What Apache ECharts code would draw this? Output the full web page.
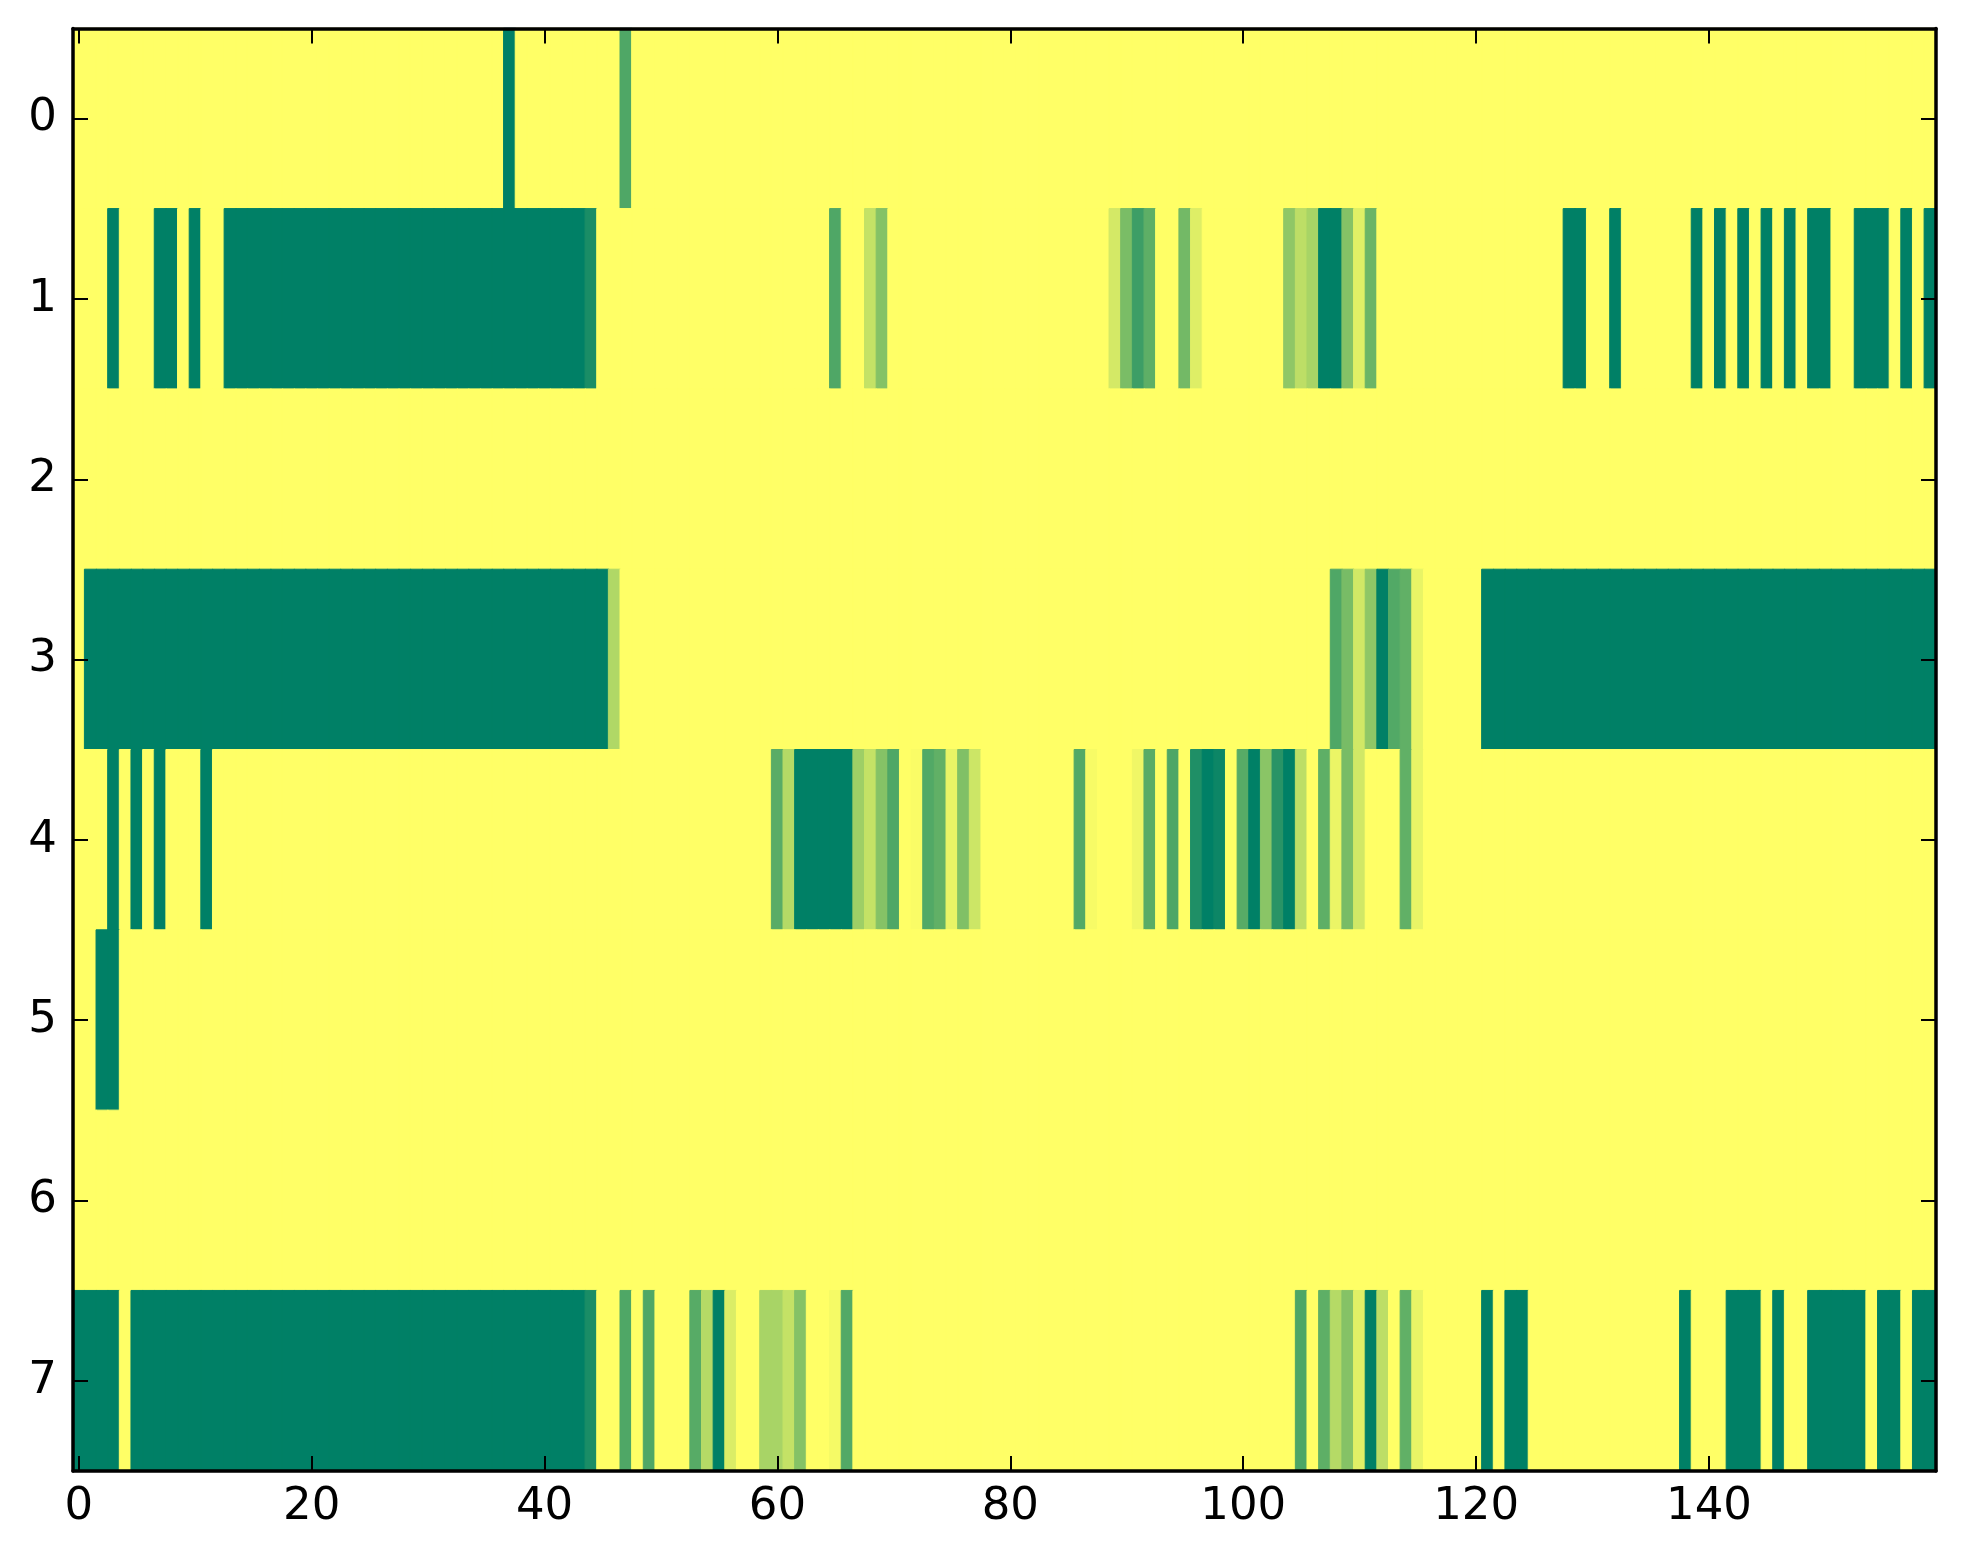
<!DOCTYPE html>
<html><head><meta charset="utf-8">
<script src="https://cdn.jsdelivr.net/npm/echarts@6/dist/echarts.min.js"></script>
<style>html,body{margin:0;padding:0;background:#fff}#c{width:1963px;height:1564px}</style>
</head><body><div id="c"></div>
<script>
const row0 = [
0,0,0,0,0,0,0,0,0,0,0,0,0,0,0,0,0,0,0,0,
0,0,0,0,0,0,0,0,0,0,0,0,0,0,0,0,0,1,0,0,
0,0,0,0,0,0,0,0.69,0,0,0,0,0,0,0,0,0,0,0,0,
0,0,0,0,0,0,0,0,0,0,0,0,0,0,0,0,0,0,0,0,
0,0,0,0,0,0,0,0,0,0,0,0,0,0,0,0,0,0,0,0,
0,0,0,0,0,0,0,0,0,0,0,0,0,0,0,0,0,0,0,0,
0,0,0,0,0,0,0,0,0,0,0,0,0,0,0,0,0,0,0,0,
0,0,0,0,0,0,0,0,0,0,0,0,0,0,0,0,0,0,0,0];
const row1 = [
0,0,0,1,0,0,0,1,1,0,1,0,0,1,1,1,1,1,1,1,
1,1,1,1,1,1,1,1,1,1,1,1,1,1,1,1,1,1,1,1,
1,1,1,1,0.9,0,0,0,0,0,0,0,0,0,0,0,0,0,0,0,
0,0,0,0,0,0.69,0,0,0.23,0.48,0,0,0,0,0,0,0,0,0,0,
0,0,0,0,0,0,0,0,0,0.17,0.52,0.76,0.63,0,0,0.55,0.13,0,0,0,
0,0,0,0,0.44,0.26,0.34,1,1,0.48,0.12,0.58,0,0,0,0,0,0,0,0,
0,0,0,0,0,0,0,0,1,1,0,0,1,0,0,0,0,0,0,1,
0,1,0,1,0,1,0,1,0,1,1,0,0,1,1,1,0,1,0,1];
const row2 = [
0,0,0,0,0,0,0,0,0,0,0,0,0,0,0,0,0,0,0,0,
0,0,0,0,0,0,0,0,0,0,0,0,0,0,0,0,0,0,0,0,
0,0,0,0,0,0,0,0,0,0,0,0,0,0,0,0,0,0,0,0,
0,0,0,0,0,0,0,0,0,0,0,0,0,0,0,0,0,0,0,0,
0,0,0,0,0,0,0,0,0,0,0,0,0,0,0,0,0,0,0,0,
0,0,0,0,0,0,0,0,0,0,0,0,0,0,0,0,0,0,0,0,
0,0,0,0,0,0,0,0,0,0,0,0,0,0,0,0,0,0,0,0,
0,0,0,0,0,0,0,0,0,0,0,0,0,0,0,0,0,0,0,0];
const row3 = [
0,1,1,1,1,1,1,1,1,1,1,1,1,1,1,1,1,1,1,1,
1,1,1,1,1,1,1,1,1,1,1,1,1,1,1,1,1,1,1,1,
1,1,1,1,1,1,0.31,0,0,0,0,0,0,0,0,0,0,0,0,0,
0,0,0,0,0,0,0,0,0,0,0,0,0,0,0,0,0,0,0,0,
0,0,0,0,0,0,0,0,0,0,0,0,0,0,0,0,0,0,0,0,
0,0,0,0,0,0,0,0,0.69,0.53,0.18,0.44,1,0.68,0.62,0.09,0,0,0,0,
0,1,1,1,1,1,1,1,1,1,1,1,1,1,1,1,1,1,1,1,
1,1,1,1,1,1,1,1,1,1,1,1,1,1,1,1,1,1,1,1];
const row4 = [
0,0,0,1,0,1,0,1,0,0,0,1,0,0,0,0,0,0,0,0,
0,0,0,0,0,0,0,0,0,0,0,0,0,0,0,0,0,0,0,0,
0,0,0,0,0,0,0,0,0,0,0,0,0,0,0,0,0,0,0,0,
0.65,0.29,1,1,1,1,1,0.38,0.23,0.48,0.69,0,0.02,0.68,0.62,0.09,0.5,0.2,0,0,
0,0,0,0,0,0,0.68,0.03,0,0,0,0.06,0.65,0,0.7,0,0.88,1,0.95,0,
0.66,1,0.46,0.84,1,0.26,0,0.63,0.08,0.53,0.18,0,0,0,0.62,0.09,0,0,0,0,
0,0,0,0,0,0,0,0,0,0,0,0,0,0,0,0,0,0,0,0,
0,0,0,0,0,0,0,0,0,0,0,0,0,0,0,0,0,0,0,0];
const row5 = [
0,0,1,1,0,0,0,0,0,0,0,0,0,0,0,0,0,0,0,0,
0,0,0,0,0,0,0,0,0,0,0,0,0,0,0,0,0,0,0,0,
0,0,0,0,0,0,0,0,0,0,0,0,0,0,0,0,0,0,0,0,
0,0,0,0,0,0,0,0,0,0,0,0,0,0,0,0,0,0,0,0,
0,0,0,0,0,0,0,0,0,0,0,0,0,0,0,0,0,0,0,0,
0,0,0,0,0,0,0,0,0,0,0,0,0,0,0,0,0,0,0,0,
0,0,0,0,0,0,0,0,0,0,0,0,0,0,0,0,0,0,0,0,
0,0,0,0,0,0,0,0,0,0,0,0,0,0,0,0,0,0,0,0];
const row6 = [
0,0,0,0,0,0,0,0,0,0,0,0,0,0,0,0,0,0,0,0,
0,0,0,0,0,0,0,0,0,0,0,0,0,0,0,0,0,0,0,0,
0,0,0,0,0,0,0,0,0,0,0,0,0,0,0,0,0,0,0,0,
0,0,0,0,0,0,0,0,0,0,0,0,0,0,0,0,0,0,0,0,
0,0,0,0,0,0,0,0,0,0,0,0,0,0,0,0,0,0,0,0,
0,0,0,0,0,0,0,0,0,0,0,0,0,0,0,0,0,0,0,0,
0,0,0,0,0,0,0,0,0,0,0,0,0,0,0,0,0,0,0,0,
0,0,0,0,0,0,0,0,0,0,0,0,0,0,0,0,0,0,0,0];
const row7 = [
1,1,1,1,0,1,1,1,1,1,1,1,1,1,1,1,1,1,1,1,
1,1,1,1,1,1,1,1,1,1,1,1,1,1,1,1,1,1,1,1,
1,1,1,1,0.9,0,0,0.69,0,0.69,0,0,0,0.66,0.29,1,0.14,0,0,0.34,
0.34,0.23,0.48,0,0,0.04,0.68,0,0,0,0,0,0,0,0,0,0,0,0,0,
0,0,0,0,0,0,0,0,0,0,0,0,0,0,0,0,0,0,0,0,
0,0,0,0,0,0.7,0,0.63,0.29,0.48,0.12,1,0.26,0,0.62,0.09,0,0,0,0,
0,1,0,1,1,0,0,0,0,0,0,0,0,0,0,0,0,0,1,0,
0,0,1,1,1,0,1,0,0,1,1,1,1,1,0,1,1,0,1,1];

const rows = [row0, row1, row2, row3, row4, row5, row6, row7];
const yLabels = ['0','1','2','3','4','5','6','7'];
const xLabels = row0.map((_, i) => String(i));
const cmapColors = ['#ffff66', '#008066']; // summer_r: 0 -> yellow, 1 -> green

// each cell coloured through ECharts' own colour interpolation of the colormap
const cells = [];
rows.forEach((r, y) => r.forEach((v, x) => {
  const c = echarts.color.lerp(v, cmapColors);
  cells.push({value: [x, y, v], itemStyle: {color: c, borderColor: c, borderWidth: 1}});
}));

const FONT = 'DejaVu Sans';
const lineStyle = {color: '#000', width: 3.5};
const tickStyle = {color: '#000', width: 2};

function xAxisDef(pos, showLabel) {
  return {
    type: 'category', data: xLabels, position: pos, boundaryGap: true, z: 10,
    axisLine: {show: true, onZero: false, lineStyle: lineStyle},
    axisTick: {show: true, inside: true, length: 15, interval: 19, alignWithLabel: true, lineStyle: tickStyle},
    axisLabel: {show: showLabel, interval: 19, color: '#000', fontSize: 45, fontFamily: FONT, margin: 14},
    splitLine: {show: false}
  };
}
function yAxisDef(pos, showLabel) {
  return {
    type: 'category', data: yLabels, position: pos, inverse: true, boundaryGap: true, z: 10,
    axisLine: {show: true, onZero: false, lineStyle: lineStyle},
    axisTick: {show: true, inside: true, length: 15, interval: 0, alignWithLabel: true, lineStyle: tickStyle},
    axisLabel: {show: showLabel, interval: 0, color: '#000', fontSize: 45, fontFamily: FONT, margin: 16},
    splitLine: {show: false}
  };
}

const chart = echarts.init(document.getElementById('c'), null, {renderer: 'canvas'});
chart.setOption({
  backgroundColor: '#fff',
  animation: false,
  grid: {left: 73, top: 28.5, right: 27, bottom: 93, containLabel: false},
  xAxis: [xAxisDef('bottom', true), xAxisDef('top', false)],
  yAxis: [yAxisDef('left', true), yAxisDef('right', false)],
  series: [{
    type: 'heatmap', xAxisIndex: 0, yAxisIndex: 0, data: cells,
    emphasis: {disabled: true}, progressive: 0
  }]
});
</script></body></html>
